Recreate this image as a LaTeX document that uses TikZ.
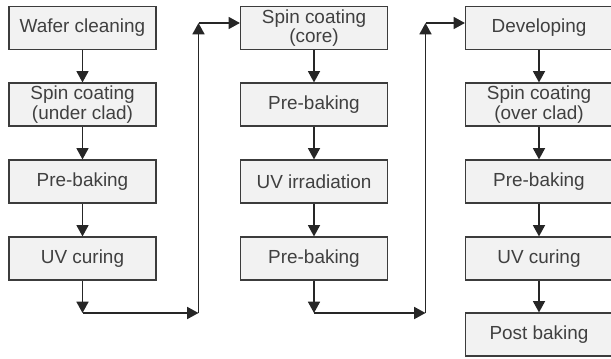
\documentclass[tikz,border=0pt]{standalone}
\usepackage{fontspec}
\setmainfont{Liberation Sans}
\usetikzlibrary{arrows.meta}
\definecolor{boxFill}{HTML}{F2F2F2}
\definecolor{lineGray}{HTML}{3C3C3C}
\begin{document}
\begin{tikzpicture}[x=0.75pt, y=-0.75pt,
    stepStyle/.style={rectangle, draw=lineGray, fill=boxFill, line width=1.1pt, minimum width=110pt, minimum height=32pt, inner sep=0pt, align=center, font=\fontsize{14.2}{14.6}\selectfont, text=black!75},
    flowStyle/.style={-{Triangle[length=8.5pt, width=9pt]}, line width=1.2pt, draw=black!85}]
                    \useasboundingbox (0, 0) rectangle (611, 358);

                    % first column
                    \node[stepStyle] (c1_0) at (82.5,  28) {Wafer cleaning};
                    \node[stepStyle] (c1_1) at (82.5, 104.5) {Spin coating\\(under clad)};
                    \node[stepStyle] (c1_2) at (82.5, 181.5) {Pre-baking};
                    \node[stepStyle] (c1_3) at (82.5, 258.5) {UV curing};

                    % second column
                    \node[stepStyle] (c2_0) at (314,  28) {Spin coating\\(core)};
                    \node[stepStyle] (c2_1) at (314, 104.5) {Pre-baking};
                    \node[stepStyle] (c2_2) at (314, 181.5) {UV irradiation};
                    \node[stepStyle] (c2_3) at (314, 258.5) {Pre-baking};

                    % third column
                    \node[stepStyle] (c3_0) at (539,  28) {Developing};
                    \node[stepStyle] (c3_1) at (539, 104.5) {Spin coating\\(over clad)};
                    \node[stepStyle] (c3_2) at (539, 181.5) {Pre-baking};
                    \node[stepStyle] (c3_3) at (539, 258.5) {UV curing};
                    \node[stepStyle] (c3_4) at (539, 334.5) {Post baking};

                    % turning points
                    \coordinate (t1_low) at (c1_3.south |- 0, 313);
                    \coordinate (t1_right) at (198.5, 313);
                    \coordinate (t1_top) at (198.5, 23);
                    \coordinate (t2_low) at (c2_3.south |- 0, 313);
                    \coordinate (t2_right) at (425.5, 313);
                    \coordinate (t2_top) at (425.5, 23);

                    \draw[flowStyle] (c1_0.south) -- (c1_1.north);
                    \draw[flowStyle] (c1_1.south) -- (c1_2.north);
                    \draw[flowStyle] (c1_2.south) -- (c1_3.north);
                    \draw[flowStyle] (c1_3.south) -- (t1_low);
                    \draw[flowStyle] (t1_low) -- (t1_right);
                    \draw[flowStyle] (t1_right) -- (t1_top);
                    \draw[flowStyle] (t1_top) -- (t1_top -| c2_0.west);

                    \draw[flowStyle] (c2_0.south) -- (c2_1.north);
                    \draw[flowStyle] (c2_1.south) -- (c2_2.north);
                    \draw[flowStyle] (c2_2.south) -- (c2_3.north);
                    \draw[flowStyle] (c2_3.south) -- (t2_low);
                    \draw[flowStyle] (t2_low) -- (t2_right);
                    \draw[flowStyle] (t2_right) -- (t2_top);
                    \draw[flowStyle] (t2_top) -- (t2_top -| c3_0.west);

                    \draw[flowStyle] (c3_0.south) -- (c3_1.north);
                    \draw[flowStyle] (c3_1.south) -- (c3_2.north);
                    \draw[flowStyle] (c3_2.south) -- (c3_3.north);
                    \draw[flowStyle] (c3_3.south) -- (c3_4.north);
                \end{tikzpicture}
\end{document}
